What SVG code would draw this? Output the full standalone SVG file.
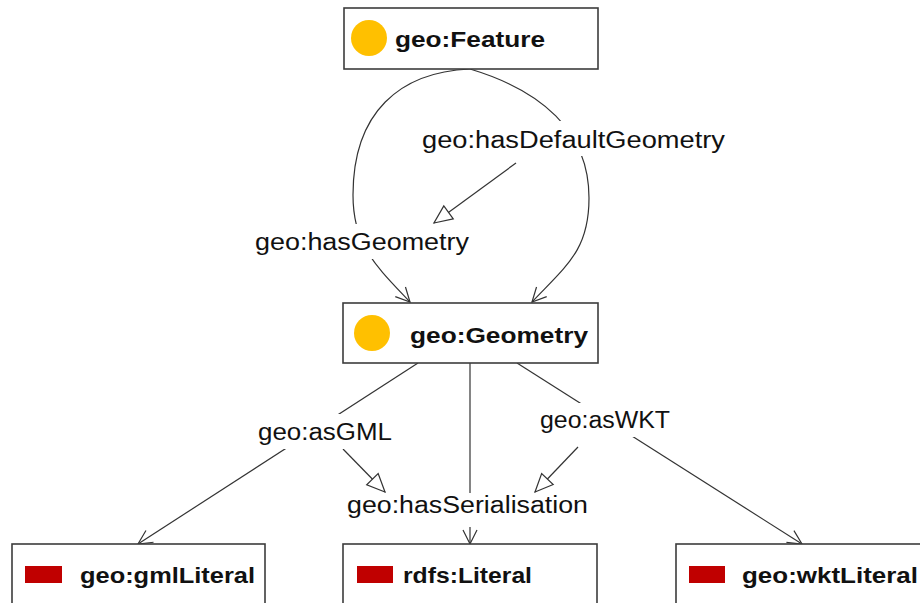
<svg xmlns="http://www.w3.org/2000/svg" width="920" height="603" viewBox="0 0 920 603">
<style>
.box{fill:#fff;stroke:#3c3c3c;stroke-width:1.6}
.edge{fill:none;stroke:#333;stroke-width:1.2}
.lbl{font-family:"Liberation Sans",Arial,sans-serif;font-size:23px;fill:#111}
.nt{font-family:"Liberation Sans",Arial,sans-serif;font-size:22px;font-weight:bold;fill:#111}
.bg{fill:#fff}
.cls{fill:#FFC000}
.lit{fill:#C00000}
</style>
<defs>
<marker id="v" markerUnits="userSpaceOnUse" orient="auto" markerWidth="30" markerHeight="30" viewBox="-20 -15 30 30" refX="0" refY="0">
<path d="M-14,-7 L0,0 L-14,7" fill="none" stroke="#333" stroke-width="1.2"/>
</marker>
<marker id="tri" markerUnits="userSpaceOnUse" orient="auto" markerWidth="30" markerHeight="30" viewBox="-25 -15 30 30" refX="0" refY="0">
<path d="M-18,-8 L0,0 L-18,8 Z" fill="#fff" stroke="#333" stroke-width="1.2"/>
</marker>
</defs>
<rect width="920" height="603" fill="#fff"/>
<g id="connectors">
<path class="edge" d="M470,69 C400,72 353,112 353,195 C353,245 375,265 410,302" marker-end="url(#v)"/>
<path class="edge" d="M470,69 C540,90 589,130 589,198 C589,250 567,265 532,302" marker-end="url(#v)"/>
<path class="edge" d="M516,163 L434,223" marker-end="url(#tri)"/>
<path class="edge" d="M418,363 L138,544" marker-end="url(#v)"/>
<path class="edge" d="M470,363 L470,544" marker-end="url(#v)"/>
<path class="edge" d="M517,363 L802,544" marker-end="url(#v)"/>
<path class="edge" d="M343,449 L385,492" marker-end="url(#tri)"/>
<path class="edge" d="M578,447 L535,492" marker-end="url(#tri)"/>
</g>
<g id="labels">
<rect class="bg" x="419" y="121" width="309" height="35"/>
<text class="lbl" x="422" y="148" textLength="303" lengthAdjust="spacingAndGlyphs">geo:hasDefaultGeometry</text>
<rect class="bg" x="252" y="224" width="220" height="35"/>
<text class="lbl" x="255" y="250" textLength="214" lengthAdjust="spacingAndGlyphs">geo:hasGeometry</text>
<rect class="bg" x="255" y="414" width="140" height="35"/>
<text class="lbl" x="258" y="440" textLength="134" lengthAdjust="spacingAndGlyphs">geo:asGML</text>
<rect class="bg" x="537" y="403" width="136" height="34"/>
<text class="lbl" x="540" y="428" textLength="130" lengthAdjust="spacingAndGlyphs">geo:asWKT</text>
<rect class="bg" x="344" y="493" width="247" height="34"/>
<text class="lbl" x="347" y="513" textLength="241" lengthAdjust="spacingAndGlyphs">geo:hasSerialisation</text>
</g>
<g id="node-feature">
<rect class="box" x="344" y="8" width="254" height="61"/>
<circle class="cls" cx="369" cy="38" r="18"/>
<text class="nt" x="395" y="47" textLength="150" lengthAdjust="spacingAndGlyphs">geo:Feature</text>
</g>
<g id="node-geometry">
<rect class="box" x="343" y="303" width="255" height="60"/>
<circle class="cls" cx="372" cy="333" r="18"/>
<text class="nt" x="410" y="343" textLength="178" lengthAdjust="spacingAndGlyphs">geo:Geometry</text>
</g>
<g id="node-gmlLiteral">
<rect class="box" x="12" y="544" width="253" height="70"/>
<rect class="lit" x="25" y="566" width="37" height="17"/>
<text class="nt" x="80" y="583" textLength="175" lengthAdjust="spacingAndGlyphs">geo:gmlLiteral</text>
</g>
<g id="node-rdfsLiteral">
<rect class="box" x="343" y="544" width="254" height="70"/>
<rect class="lit" x="357" y="566" width="36" height="17"/>
<text class="nt" x="403" y="583" textLength="129" lengthAdjust="spacingAndGlyphs">rdfs:Literal</text>
</g>
<g id="node-wktLiteral">
<rect class="box" x="676" y="544" width="260" height="70"/>
<rect class="lit" x="689" y="566" width="36" height="17"/>
<text class="nt" x="742" y="583" textLength="176" lengthAdjust="spacingAndGlyphs">geo:wktLiteral</text>
</g>
</svg>
